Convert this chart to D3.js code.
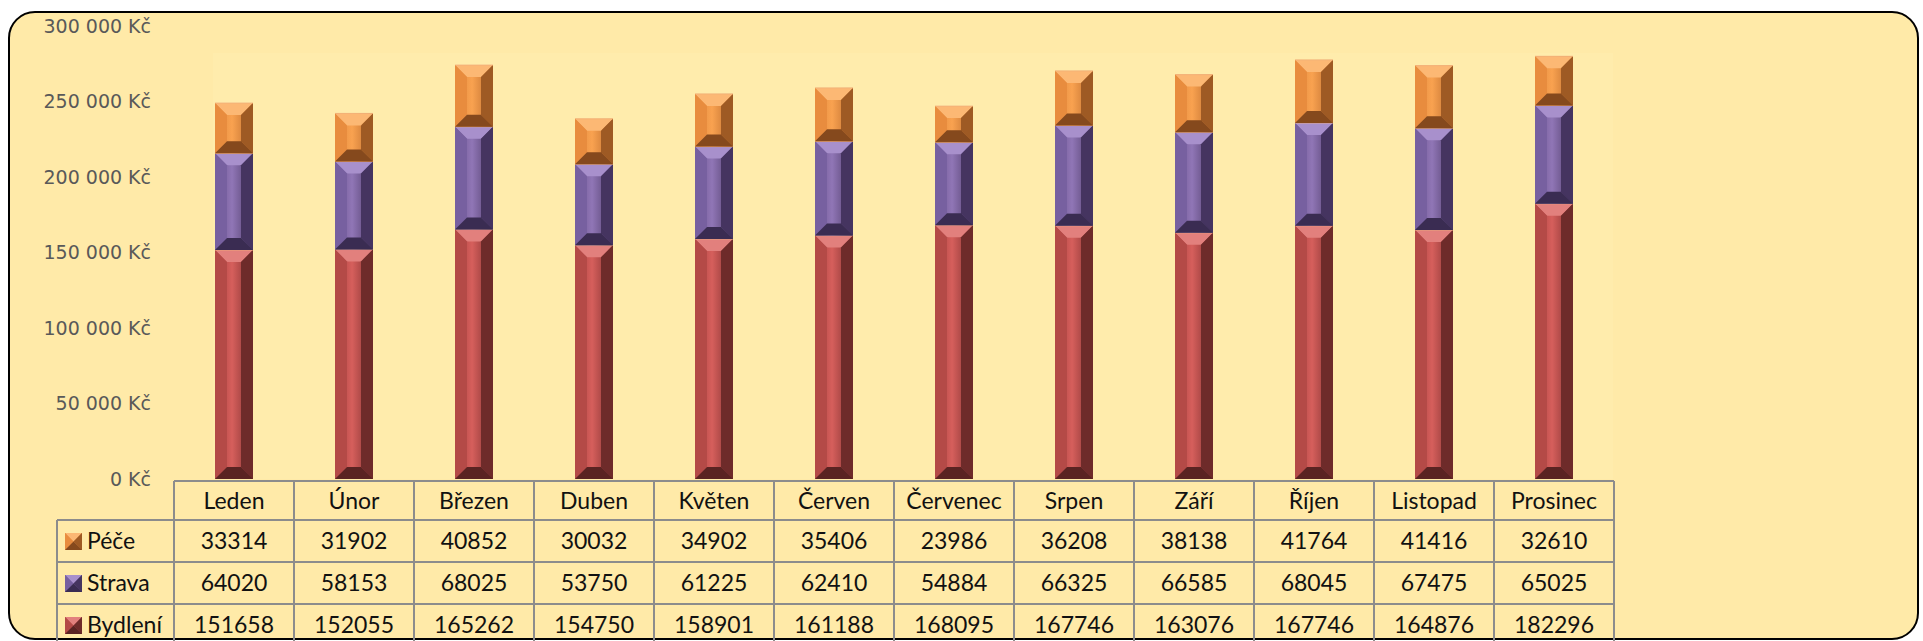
<!DOCTYPE html>
<html>
<head>
<meta charset="utf-8">
<script src="https://cdn.jsdelivr.net/npm/d3@7"></script>
<style>
  html, body { margin: 0; padding: 0; background: #ffffff; }
  svg { display: block; }
</style>
</head>
<body>
<svg id="svg"></svg>
<script>
// chart data
const months = ['Leden', 'Únor', 'Březen', 'Duben', 'Květen', 'Červen', 'Červenec', 'Srpen', 'Září', 'Říjen', 'Listopad', 'Prosinec'];
const seriesNames = ['Bydlení', 'Strava', 'Péče'];
const bydleni = [151658, 152055, 165262, 154750, 158901, 161188, 168095, 167746, 163076, 167746, 164876, 182296];
const strava = [64020, 58153, 68025, 53750, 61225, 62410, 54884, 66325, 66585, 68045, 67475, 65025];
const pece = [33314, 31902, 40852, 30032, 34902, 35406, 23986, 36208, 38138, 41764, 41416, 32610];
const yTicks = [0, 50000, 100000, 150000, 200000, 250000, 300000];

const width = 1923;
const height = 641;

const svg = d3.select('#svg')
  .attr('width', width)
  .attr('height', height);

const defs = svg.append('defs');

// colours for each series: base, light, mid, dark, darkest
const palette = {
  'Bydlení': { face: ['#a8413f', '#d65f5c', '#7c2f2e'], top: '#e2807d', left: '#b44a47', right: '#6e2b2a', bottom: '#5a2322' },
  'Strava': { face: ['#6e5590', '#9076b6', '#4e3b68'], top: '#a890cc', left: '#7760a0', right: '#453460', bottom: '#3a2c52' },
  'Péče': { face: ['#e08a3e', '#f9a250', '#b8692c'], top: '#fcb874', left: '#e88c3e', right: '#9e5a24', bottom: '#85491d' }
};

Object.keys(palette).forEach((k, i) => {
  const g = defs.append('linearGradient')
    .attr('id', 'face-' + i)
    .attr('x1', '0%').attr('x2', '100%')
    .attr('y1', '0%').attr('y2', '0%');
  g.append('stop').attr('offset', '0%').attr('stop-color', palette[k].face[0]);
  g.append('stop').attr('offset', '45%').attr('stop-color', palette[k].face[1]);
  g.append('stop').attr('offset', '100%').attr('stop-color', palette[k].face[2]);
  palette[k].grad = 'url(#face-' + i + ')';
});

// background with rounded frame
svg.append('rect')
  .attr('x', 9).attr('y', 12)
  .attr('width', 1909).attr('height', 627)
  .attr('rx', 26).attr('ry', 26)
  .attr('fill', '#ffeaa8')
  .attr('stroke', '#000')
  .attr('stroke-width', 2);

// faint plot area
svg.append('rect')
  .attr('x', 213).attr('y', 53)
  .attr('width', 1400).attr('height', 426)
  .attr('fill', '#ffecac');

// scales
const x = d3.scaleBand()
  .domain(months)
  .range([174, 1614])
  .padding(0);

const y = d3.scaleLinear()
  .domain([0, 300000])
  .range([479, 26]);

const barWidth = 38;

// y axis labels (no line)
const fmt = v => d3.format(',')(v).replace(/,/g, ' ') + ' Kč';
const yAxis = d3.axisLeft(y)
  .tickValues(yTicks)
  .tickFormat(fmt)
  .tickSize(0)
  .tickPadding(0);

const yg = svg.append('g')
  .attr('transform', 'translate(151,0)')
  .call(yAxis);
yg.select('.domain').remove();
yg.selectAll('text')
  .attr('font-family', 'DejaVu Sans, sans-serif')
  .attr('font-size', '19px')
  .attr('fill', '#595959');

// stacked bars
const rows = months.map((m, i) => ({ month: m, 'Bydlení': bydleni[i], 'Strava': strava[i], 'Péče': pece[i] }));
const stack = d3.stack().keys(seriesNames)(rows);

function bevel(g, x0, x1, y0, y1, c, b) {
  g.append('rect')
    .attr('x', x0).attr('y', y0)
    .attr('width', x1 - x0).attr('height', y1 - y0)
    .attr('fill', c.grad);
  const poly = (pts, fill) => g.append('polygon')
    .attr('points', pts.map(p => p.join(',')).join(' '))
    .attr('fill', fill);
  poly([[x0, y0], [x1, y0], [x1 - b, y0 + b], [x0 + b, y0 + b]], c.top);
  poly([[x0, y0], [x0 + b, y0 + b], [x0 + b, y1 - b], [x0, y1]], c.left);
  poly([[x1, y0], [x1 - b, y0 + b], [x1 - b, y1 - b], [x1, y1]], c.right);
  poly([[x0, y1], [x1, y1], [x1 - b, y1 - b], [x0 + b, y1 - b]], c.bottom);
}

const bars = svg.append('g');
stack.forEach(layer => {
  const c = palette[layer.key];
  layer.forEach((d, i) => {
    const cx = x(months[i]) + x.bandwidth() / 2;
    const x0 = cx - barWidth / 2;
    const x1 = cx + barWidth / 2;
    const yTop = y(d[1]);
    const yBot = y(d[0]);
    const b = Math.min(12, (yBot - yTop) / 2);
    bevel(bars, x0, x1, yTop, yBot, c, b);
    // thin seam between segments
    bars.append('line')
      .attr('x1', x0).attr('x2', x1)
      .attr('y1', yTop).attr('y2', yTop)
      .attr('stroke', '#f2b07a')
      .attr('stroke-width', 1)
      .attr('opacity', 0.8);
  });
});

// data table under the chart
const tableLeft = 57;
const colLeft = 174;
const colRight = 1614;
const headTop = 481;
const headBottom = 520;
const rowH = 42;
const tableRows = [
  { name: 'Péče', values: pece },
  { name: 'Strava', values: strava },
  { name: 'Bydlení', values: bydleni }
];

const table = svg.append('g');
const lineColor = '#8c8c8c';
const tableFont = 'Lato, "Open Sans", sans-serif';

// horizontal lines
table.append('line')
  .attr('x1', colLeft).attr('x2', colRight)
  .attr('y1', headTop).attr('y2', headTop)
  .attr('stroke', lineColor).attr('stroke-width', 2);
for (let r = 0; r <= tableRows.length; r++) {
  const yy = headBottom + r * rowH;
  table.append('line')
    .attr('x1', tableLeft).attr('x2', colRight)
    .attr('y1', yy).attr('y2', yy)
    .attr('stroke', lineColor).attr('stroke-width', 2);
}
// vertical lines
table.append('line')
  .attr('x1', tableLeft).attr('x2', tableLeft)
  .attr('y1', headBottom).attr('y2', height)
  .attr('stroke', lineColor).attr('stroke-width', 2);
months.forEach(m => {
  table.append('line')
    .attr('x1', x(m)).attr('x2', x(m))
    .attr('y1', headTop).attr('y2', height)
    .attr('stroke', lineColor).attr('stroke-width', 2);
});
table.append('line')
  .attr('x1', colRight).attr('x2', colRight)
  .attr('y1', headTop).attr('y2', height)
  .attr('stroke', lineColor).attr('stroke-width', 2);

// header labels
table.selectAll('text.head')
  .data(months)
  .join('text')
  .attr('class', 'head')
  .attr('x', d => x(d) + x.bandwidth() / 2)
  .attr('y', (headTop + headBottom) / 2)
  .attr('dy', '0.35em')
  .attr('text-anchor', 'middle')
  .attr('font-family', tableFont)
  .attr('font-size', '23px')
  .attr('fill', '#111')
  .text(d => d);

// value rows
tableRows.forEach((row, r) => {
  const cy = headBottom + r * rowH + rowH / 2;
  const c = palette[row.name];
  const key = table.append('g');
  bevel(key, 65, 82, cy - 8, cy + 9, c, 8.5);
  table.append('text')
    .attr('x', 87)
    .attr('y', cy)
    .attr('dy', '0.35em')
    .attr('font-family', tableFont)
    .attr('font-size', '23px')
    .attr('fill', '#111')
    .text(row.name);
  row.values.forEach((v, i) => {
    table.append('text')
      .attr('x', x(months[i]) + x.bandwidth() / 2)
      .attr('y', cy)
      .attr('dy', '0.35em')
      .attr('text-anchor', 'middle')
      .attr('font-family', tableFont)
      .attr('font-size', '23px')
      .attr('fill', '#111')
      .text(v);
  });
});
</script>
</body>
</html>
